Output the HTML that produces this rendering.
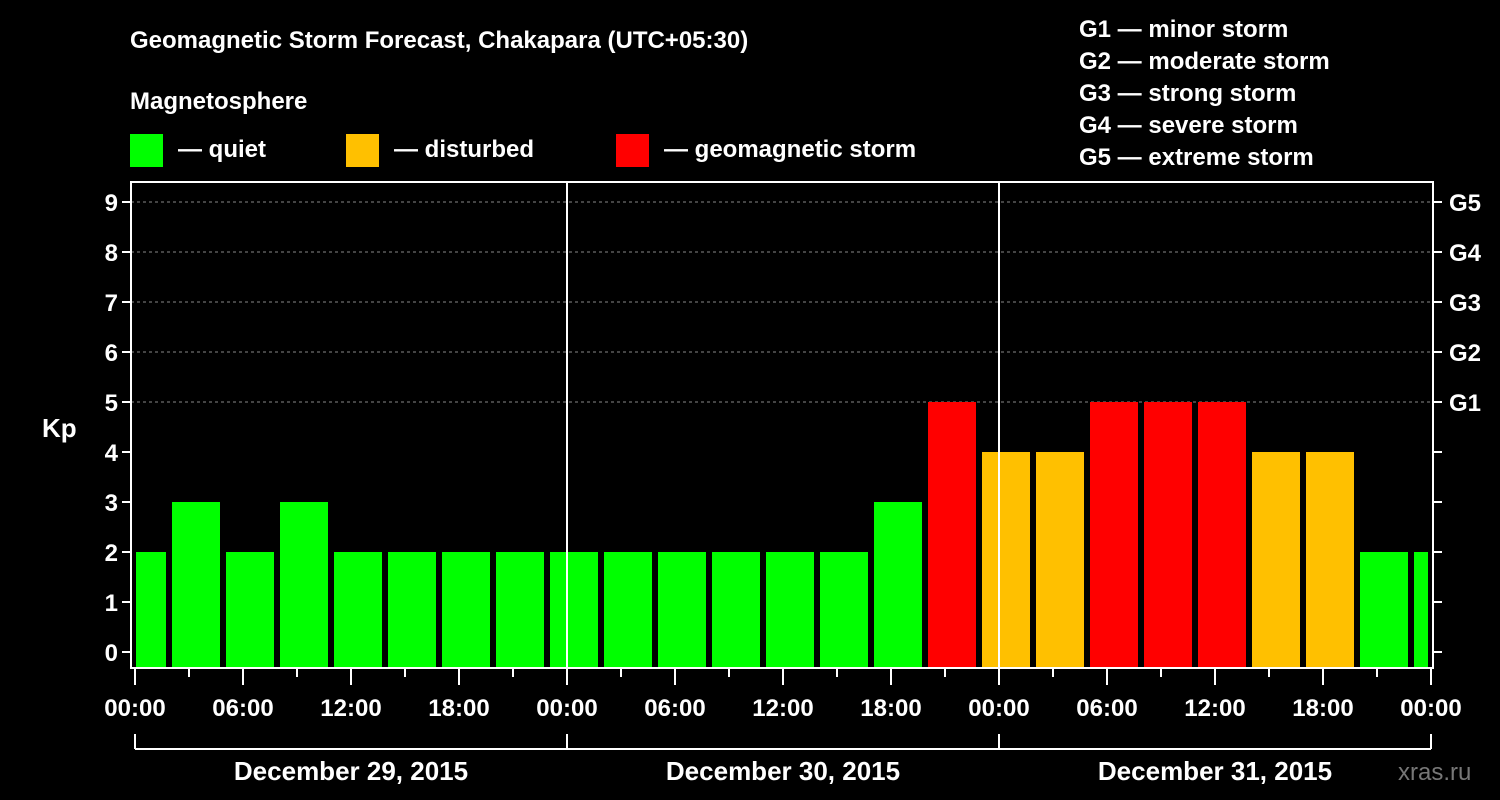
<!DOCTYPE html>
<html><head><meta charset="utf-8"><style>
html,body{margin:0;padding:0;background:#000;}
svg{display:block;font-family:"Liberation Sans",sans-serif;font-weight:bold;}
</style></head><body>
<svg id="chart" width="1500" height="800" viewBox="0 0 1500 800">
<rect x="0" y="0" width="1500" height="800" fill="#000"/>
<text x="130" y="48" fill="#fff" font-size="24">Geomagnetic Storm Forecast, Chakapara (UTC+05:30)</text>
<text x="130" y="109" fill="#fff" font-size="24">Magnetosphere</text>
<g><rect x="130" y="134" width="33" height="33" fill="#00ff00"/><text x="178" y="157" fill="#fff" font-size="24">— quiet</text></g>
<g><rect x="346" y="134" width="33" height="33" fill="#ffc000"/><text x="394" y="157" fill="#fff" font-size="24">— disturbed</text></g>
<g><rect x="616" y="134" width="33" height="33" fill="#ff0000"/><text x="664" y="157" fill="#fff" font-size="24">— geomagnetic storm</text></g>
<g fill="#fff" font-size="24">
<text x="1079" y="37">G1 — minor storm</text>
<text x="1079" y="69">G2 — moderate storm</text>
<text x="1079" y="101">G3 — strong storm</text>
<text x="1079" y="133">G4 — severe storm</text>
<text x="1079" y="165">G5 — extreme storm</text>
</g>
<text x="42" y="437" fill="#fff" font-size="26">Kp</text>
<text x="1398" y="780" fill="#777" font-size="24" font-weight="normal">xras.ru</text>
<g id="grid"></g><g id="bars"></g><g id="axes"></g>
</svg>
<script>
const kpValues=[2,3,2,3,2,2,2,2,2,2,2,2,2,2,3,5,4,4,5,5,5,4,4,2,2];
const barStartHours=[-1,2,5,8,11,14,17,20,23,26,29,32,35,38,41,44,47,50,53,56,59,62,65,68,71];
const yTicks=[0,1,2,3,4,5,6,7,8,9];
const gLabels=["","","","","","G1","G2","G3","G4","G5"];
const xTickLabels=["00:00","06:00","12:00","18:00","00:00","06:00","12:00","18:00","00:00","06:00","12:00","18:00","00:00"];
const dayLabels=["December 29, 2015","December 30, 2015","December 31, 2015"];
const NS="http://www.w3.org/2000/svg";
const PL=131,PR=1433,PT=182,PB=668;
const x=h=>135+18*h;
const y=k=>652-50*k;
function mk(tag,attrs,parent,text){const e=document.createElementNS(NS,tag);for(const k in attrs)e.setAttribute(k,attrs[k]);if(text!==undefined)e.textContent=text;parent.appendChild(e);return e;}
const grid=document.getElementById('grid'),bars=document.getElementById('bars'),axes=document.getElementById('axes');
yTicks.forEach(k=>{if(k>=5){const l=mk('line',{x1:PL,x2:PR,y1:y(k),y2:y(k),stroke:'#888','stroke-dasharray':'3,3','stroke-width':1},grid);

}});
kpValues.forEach((v,i)=>{let x0=x(barStartHours[i])+1,x1=x0+48;x0=Math.max(x0,PL+5);x1=Math.min(x1,PR-5);
const c=v>=5?'#ff0000':(v>=4?'#ffc000':'#00ff00');
const r=mk('rect',{x:x0,y:y(v),width:x1-x0,height:PB-y(v),fill:c},bars);

});
[1,2].forEach(d=>{const l=mk('line',{x1:x(24*d),x2:x(24*d),y1:PT,y2:PB,stroke:'#fff','stroke-width':2},axes);

});
const frame=mk('rect',{x:PL,y:PT,width:PR-PL,height:PB-PT,fill:'none',stroke:'#fff','stroke-width':2},axes);


yTicks.forEach((k,i)=>{mk('line',{x1:PL-9,x2:PL,y1:y(k),y2:y(k),stroke:'#fff','stroke-width':2},axes);
mk('line',{x1:PR,x2:PR+9,y1:y(k),y2:y(k),stroke:'#fff','stroke-width':2},axes);
const t=mk('text',{x:PL-13,y:y(k)+9,fill:'#fff','font-size':24,'text-anchor':'end'},axes,String(k));


if(gLabels[i]){const g=mk('text',{x:1449,y:y(k)+9,fill:'#fff','font-size':24},axes,gLabels[i]);

}});
for(let h=0;h<=72;h+=3){const maj=h%6===0;mk('line',{x1:x(h),x2:x(h),y1:PB,y2:PB+(maj?17:9),stroke:'#fff','stroke-width':2},axes);}
xTickLabels.forEach((s,i)=>{const t=mk('text',{x:x(6*i),y:716,fill:'#fff','font-size':24,'text-anchor':'middle'},axes,s);

});
mk('line',{x1:x(0),x2:x(72),y1:749,y2:749,stroke:'#fff','stroke-width':2},axes);
[0,24,48,72].forEach(h=>mk('line',{x1:x(h),x2:x(h),y1:734,y2:749,stroke:'#fff','stroke-width':2},axes));
dayLabels.forEach((s,i)=>{const t=mk('text',{x:x(24*i+12),y:780,fill:'#fff','font-size':26,'text-anchor':'middle'},axes,s);

});
</script>
</body></html>
